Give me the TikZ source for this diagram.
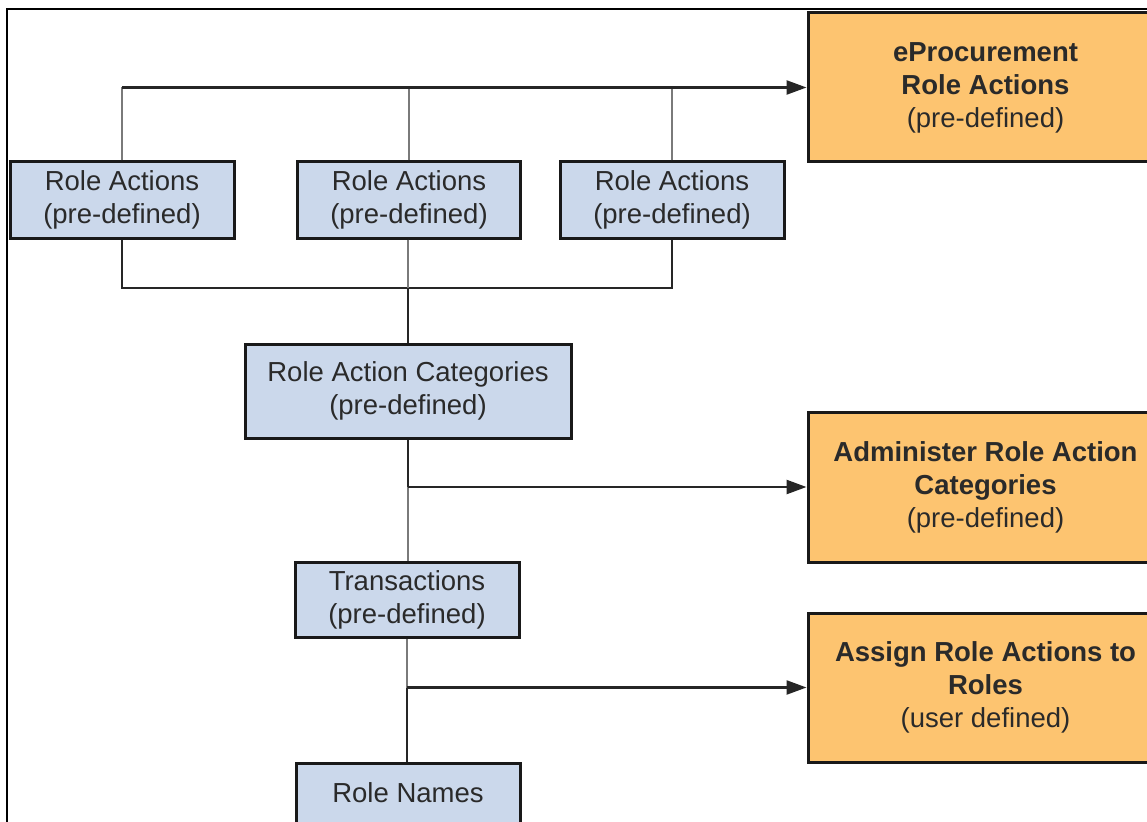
\documentclass[tikz,border=0pt]{standalone}
\usepackage{fontspec}
\setmainfont{Liberation Sans}
\usetikzlibrary{arrows.meta}
\definecolor{bluebox}{HTML}{CBD8EB}
\definecolor{orangebox}{HTML}{FDC470}
\definecolor{txt}{HTML}{2A2A2A}
\definecolor{linegray}{HTML}{7A7A7A}
\begin{document}
\begin{tikzpicture}[x=1pt,y=-1pt,
  box/.style={draw=black!90, line width=3pt, fill=bluebox, text=txt, align=center,
    inner sep=0pt, font=\fontsize{27.5}{33}\selectfont},
  obox/.style={box, fill=orangebox},
  conn/.style={line width=2.4pt, black!85},
  gconn/.style={line width=2.4pt, linegray},
  arr/.style={conn, -{Triangle[length=20pt,width=14pt]}}]
\useasboundingbox (0,0) rectangle (1147,821);
\clip (0,0) rectangle (1147,821);
\fill[white] (0,0) rectangle (1147,821);
\draw[line width=1.5pt, black] (7,830) -- (7,9) -- (1160,9);

\node[box, minimum width=224pt, minimum height=76pt] (ra1) at (122,200) {Role Actions\\(pre-defined)};
\node[box, minimum width=223pt, minimum height=76pt] (ra2) at (409,200) {Role Actions\\(pre-defined)};
\node[box, minimum width=224pt, minimum height=76pt] (ra3) at (672,200) {Role Actions\\(pre-defined)};
\node[box, minimum width=326pt, minimum height=94pt] (rac) at (408,391) {Role Action Categories\\(pre-defined)};
\node[box, minimum width=224pt, minimum height=75pt] (tr) at (407,600) {Transactions\\(pre-defined)};
\node[box, minimum width=224pt, minimum height=60pt] (rn) at (408,793) {Role Names};

\node[obox, minimum width=355pt, minimum height=149pt] (ep) at (985.5,87.5) {\textbf{eProcurement}\\\textbf{Role Actions}\\(pre-defined)};
\node[obox, minimum width=355pt, minimum height=150pt] (ad) at (985.5,487) {\textbf{Administer Role Action}\\\textbf{Categories}\\(pre-defined)};
\node[obox, minimum width=355pt, minimum height=149pt] (as) at (985.5,687.5) {\textbf{Assign Role Actions to}\\\textbf{Roles}\\(user defined)};

% top connectors
\coordinate (top1) at (ra1.north |- ep.west);
\draw[gconn] (ra1.north) -- (top1);
\draw[gconn] (ra2.north) -- (ra2.north |- ep.west);
\draw[gconn] (ra3.north) -- (ra3.north |- ep.west);
\draw[arr] (top1) -- (ep.west);

% bottom connectors
\coordinate (j) at (408,288);
\draw[conn] (ra1.south) -- (ra1.south |- j) -- (ra3.south |- j) -- (ra3.south);
\draw[gconn] (ra2.south -| j) -- (j);
\draw[conn] (j) -- (rac.north);

% rac to transactions
\coordinate (b1) at (rac.south |- ad.west);
\draw[conn] (rac.south) -- (b1);
\draw[gconn] (b1) -- (b1 |- tr.north);
\draw[arr] (b1) -- (ad.west);

% transactions to role names
\coordinate (b2) at (tr.south |- as.west);
\draw[gconn] (tr.south) -- (b2);
\draw[conn] (b2) -- (b2 |- rn.north);
\draw[arr] (b2) -- (as.west);
\end{tikzpicture}
\end{document}
